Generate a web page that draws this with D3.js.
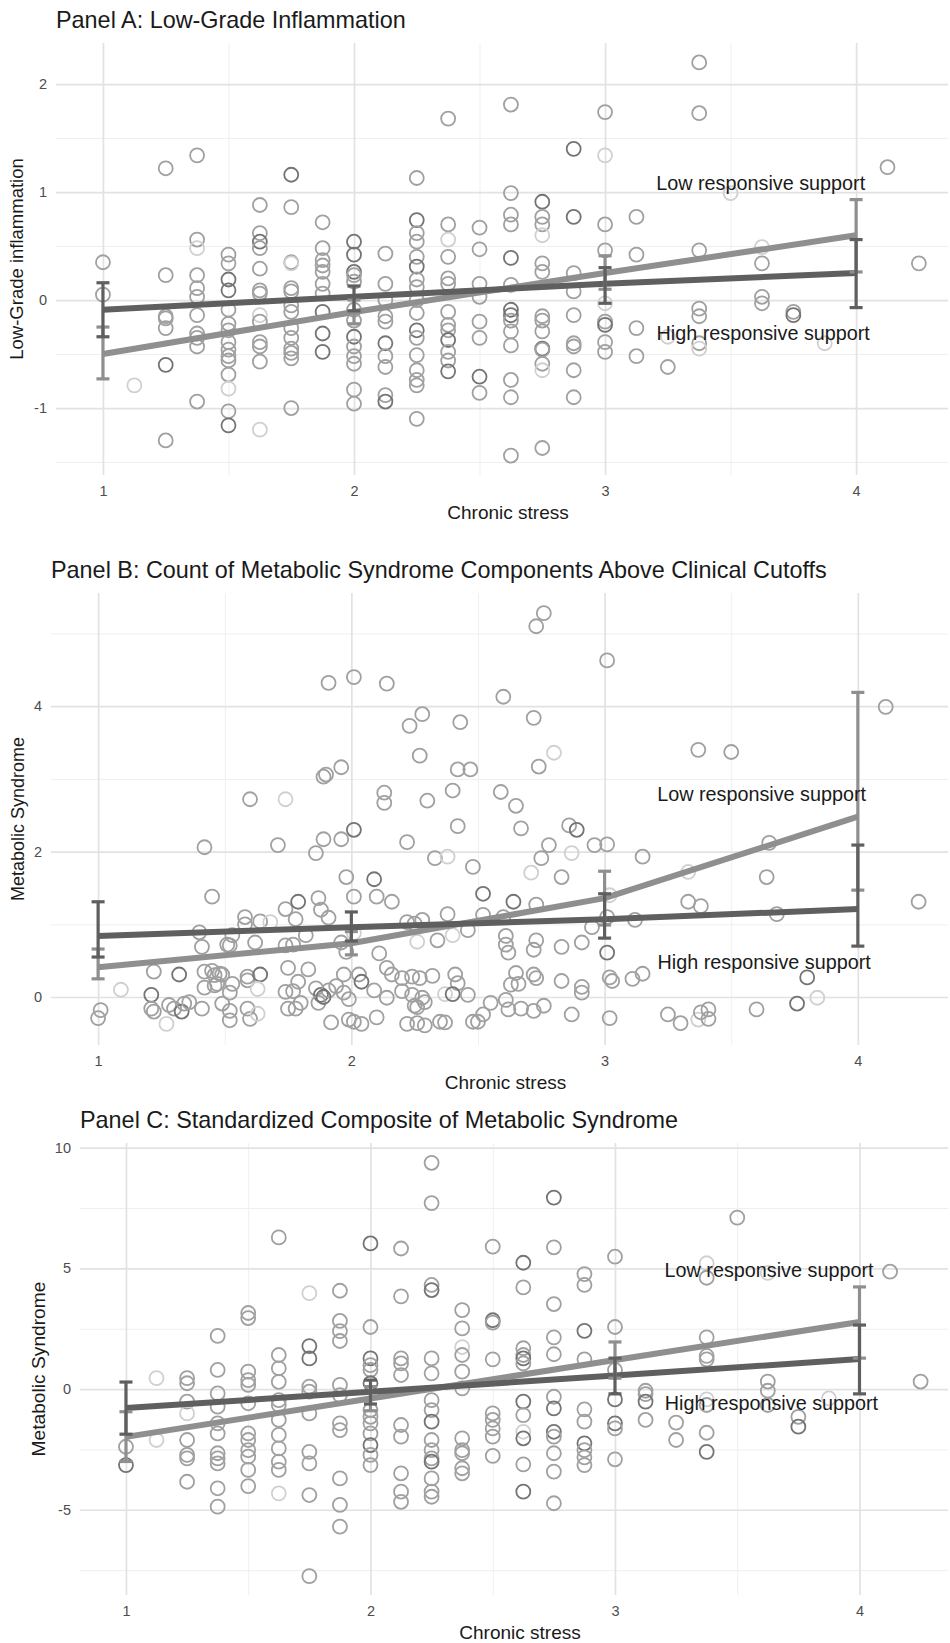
<!DOCTYPE html>
<html>
<head>
<meta charset="utf-8">
<script src="https://cdn.jsdelivr.net/npm/d3@7"></script>
<style>
  body { margin: 0; background: #fff; }
  svg { display: block; font-family: "Liberation Sans", Arial, Helvetica, sans-serif; }
</style>
</head>
<body>
<svg id="chart" width="950" height="1643"></svg>
<script>
// chronic stress levels where the model lines / error bars sit
const stress = [1, 2, 3, 4];
const xTicks = [1, 2, 3, 4];
const xMinor = [1.5, 2.5, 3.5];

/* Panel A: low-grade inflammation */
const highA = [-0.09, 0.03, 0.15, 0.25];
const highA_lo = [-0.34, -0.10, -0.03, -0.07];
const highA_hi = [0.16, 0.13, 0.30, 0.56];
const lowA = [-0.50, -0.11, 0.25, 0.60];
const lowA_lo = [-0.73, -0.22, 0.10, 0.26];
const lowA_hi = [-0.25, 0.00, 0.41, 0.93];
const yTicksA = [-1, 0, 1, 2];
const yMinorA = [-1.5, -0.5, 0.5, 1.5];
// [stress, value, tone]  tone: 0 light, 1 mid (default), 2 dark
const ptsA = [
  [1,0.35],[1,0.05],[1.125,-0.79,0],
  [1.25,1.22],[1.25,0.23],[1.25,-0.15],[1.25,-0.17],[1.25,-0.26],[1.25,-0.60,2],[1.25,-1.30],
  [1.375,1.34],[1.375,0.56],[1.375,0.48,0],[1.375,0.23],[1.375,0.11],[1.375,0.03],[1.375,-0.14],[1.375,-0.31],[1.375,-0.35],[1.375,-0.43],[1.375,-0.94],
  [1.5,0.42],[1.5,0.34],[1.5,0.19,2],[1.5,0.09,2],[1.5,-0.09],[1.5,-0.22],[1.5,-0.28],[1.5,-0.39],[1.5,-0.46],[1.5,-0.52],[1.5,-0.56],[1.5,-0.69],[1.5,-0.82,0],[1.5,-1.03],[1.5,-1.16,2],
  [1.625,0.88],[1.625,0.62],[1.625,0.54,2],[1.625,0.48],[1.625,0.29],[1.625,0.09],[1.625,0.06],[1.625,-0.14,0],[1.625,-0.20],[1.625,-0.39],[1.625,-0.43],[1.625,-0.57],[1.625,-1.20,0],
  [1.75,1.16,2],[1.75,0.86],[1.75,0.35],[1.75,0.34,0],[1.75,0.11],[1.75,0.08],[1.75,-0.05],[1.75,-0.11],[1.75,-0.26],[1.75,-0.35],[1.75,-0.45],[1.75,-0.49],[1.75,-0.54],[1.75,-1.00],
  [1.875,0.72],[1.875,0.48],[1.875,0.37],[1.875,0.32],[1.875,0.26],[1.875,0.15],[1.875,0.06],[1.875,-0.11,2],[1.875,-0.31,2],[1.875,-0.48,2],
  [2,0.54,2],[2,0.42,2],[2,0.26,2],[2,0.23],[2,0.17],[2,-0.09],[2,-0.19],[2,-0.34,2],[2,-0.43],[2,-0.52],[2,-0.59],[2,-0.83],[2,-0.96],
  [2.125,0.43],[2.125,0.15],[2.125,0],[2.125,-0.15],[2.125,-0.20],[2.125,-0.40,2],[2.125,-0.52],[2.125,-0.62],[2.125,-0.88],[2.125,-0.94,2],
  [2.25,1.13],[2.25,0.74,2],[2.25,0.62],[2.25,0.54],[2.25,0.40],[2.25,0.31,2],[2.25,0.19],[2.25,0.12],[2.25,0],[2.25,-0.12],[2.25,-0.28,2],[2.25,-0.35],[2.25,-0.51],[2.25,-0.65],[2.25,-0.74],[2.25,-0.79],[2.25,-1.10],
  [2.375,1.68],[2.375,0.70],[2.375,0.56,0],[2.375,0.40],[2.375,0.20],[2.375,0.15],[2.375,-0.11],[2.375,-0.23],[2.375,-0.28],[2.375,-0.37,2],[2.375,-0.48],[2.375,-0.56],[2.375,-0.66,2],
  [2.5,0.67],[2.5,0.47],[2.5,0.15],[2.5,0.03],[2.5,-0.20],[2.5,-0.35],[2.5,-0.71,2],[2.5,-0.86],
  [2.625,1.81],[2.625,0.99],[2.625,0.79],[2.625,0.70],[2.625,0.39,2],[2.625,0.14],[2.625,-0.09,2],[2.625,-0.14,2],[2.625,-0.19],[2.625,-0.29],[2.625,-0.42],[2.625,-0.74],[2.625,-0.90],[2.625,-1.44],
  [2.75,0.91,2],[2.75,0.77],[2.75,0.70],[2.75,0.60,0],[2.75,0.34],[2.75,0.26],[2.75,-0.15],[2.75,-0.19],[2.75,-0.29],[2.75,-0.45,2],[2.75,-0.46],[2.75,-0.59],[2.75,-0.65,0],[2.75,-1.37],
  [2.875,1.40,2],[2.875,0.77,2],[2.875,0.25],[2.875,0.08],[2.875,-0.14],[2.875,-0.40],[2.875,-0.43],[2.875,-0.65],[2.875,-0.90],
  [3,1.74],[3,1.34,0],[3,0.70],[3,0.46],[3,-0.03,0],[3,-0.20],[3,-0.23,2],[3,-0.39],[3,-0.48],
  [3.125,0.77],[3.125,0.42],[3.125,-0.26],[3.125,-0.52],
  [3.25,-0.34,0],[3.25,-0.62],
  [3.375,2.20],[3.375,1.73],[3.375,0.46],[3.375,-0.08],[3.375,-0.15],[3.375,-0.40],[3.375,-0.45,0],
  [3.5,0.99,0],
  [3.625,0.49,0],[3.625,0.34],[3.625,0.03],[3.625,-0.03],
  [3.75,-0.11],[3.75,-0.14,2],[3.875,-0.40,0],
  [4.125,1.23],[4.25,0.34]
];

/* Panel B: count of metabolic syndrome components */
const highB = [0.84, 0.96, 1.07, 1.21];
const highB_lo = [0.55, 0.77, 0.81, 0.70];
const highB_hi = [1.31, 1.17, 1.42, 2.09];
const lowB = [0.41, 0.74, 1.36, 2.48];
const lowB_lo = [0.25, 0.58, 0.99, 1.47];
const lowB_hi = [0.66, 0.90, 1.73, 4.19];
const yTicksB = [0, 2, 4];
const yMinorB = [1, 3, 5];
const ptsB = [
  [1.60,2.72],[1.74,2.72,0],[1.91,4.32],[2.01,4.40],[2.14,4.31],[2.23,3.73],[2.28,3.89],[2.43,3.78],[2.27,3.32],[1.96,3.16],[1.89,3.03],[1.90,3.06],
  [2.13,2.81],[2.13,2.67],[2.30,2.70],[2.40,2.84],[2.42,3.13],[2.47,3.13],[2.01,2.30,2],[2.42,2.35],
  [2.76,5.28],[2.73,5.10],[3.01,4.63],[2.60,4.13],[2.72,3.84],[2.80,3.36,0],[2.74,3.17],[2.59,2.82],[2.65,2.63],[3.37,3.40],[3.50,3.37],[4.11,3.99],
  [2.67,2.32],[2.86,2.36],[2.89,2.30,2],
  [1.42,2.06],[1.71,2.09],[1.86,1.98],[1.89,2.17],[1.96,2.17],[2.22,2.13],[2.33,1.91],[2.38,1.93,0],[2.48,1.79],[1.98,1.65],[2.09,1.62,2],
  [1.45,1.38],[1.74,1.21],[1.79,1.31,2],[1.78,1.07],[1.87,1.36],[1.88,1.20],[1.91,1.09],[2.01,1.38],[2.10,1.38],[2.16,1.31],
  [2.22,1.03],[2.25,1.01],[2.28,1.06],[2.38,1.14],[2.40,0.85,0],[2.34,0.78],[2.26,0.76,0],[2.46,0.92],
  [1.40,0.89],[1.58,1.10],[1.58,1.00],[1.64,1.04],[1.68,1.03,0],[1.53,0.85],[1.41,0.69],[1.51,0.72],[1.52,0.71],[1.62,0.75],[1.82,0.85],
  [1.74,0.71],[1.77,0.72],[1.96,0.75],[2.01,0.88,0],[1.98,0.62],[2.11,0.60],
  [1.22,0.35],[1.32,0.31,2],[1.42,0.35],[1.45,0.36],[1.46,0.30],[1.48,0.32],[1.49,0.31],[1.59,0.28],[1.59,0.23],[1.64,0.31,2],
  [1.75,0.40],[1.83,0.38],[1.79,0.21],[1.97,0.31],[2.03,0.31],[2.04,0.21,2],[2.14,0.40],[2.16,0.31],[2.20,0.26],[2.24,0.28],[2.27,0.26],[2.32,0.29],[2.41,0.31],[2.42,0.19],
  [1.42,0.13],[1.46,0.16],[1.47,0.18],[1.52,0.06],[1.53,0.18],[1.63,0.11,0],[1.74,0.07],[1.77,0.08],[1.86,0.12],[1.88,0.03,2],[1.91,0.09],[1.94,0.15],[1.97,0.06],[1.99,-0.03],
  [2.09,0.09],[2.14,-0.01],[2.20,0.08],[2.24,0.03],[2.28,-0.01],[2.37,0.04,0],[2.40,0.04,2],[2.46,0.03],[1.21,0.03,2],[1.09,0.10,0],
  [1.00,-0.29],[1.01,-0.18],[1.21,-0.16],[1.22,-0.20],[1.27,-0.37,0],[1.28,-0.11],[1.30,-0.16],[1.33,-0.20,2],[1.34,-0.09],[1.36,-0.07],[1.41,-0.16],
  [1.49,-0.09],[1.52,-0.19],[1.52,-0.32],[1.59,-0.16],[1.60,-0.30],[1.63,-0.23,0],[1.75,-0.16],[1.78,-0.16],[1.80,-0.08],[1.87,-0.08],[1.89,0.0,2],
  [1.92,-0.35],[1.99,-0.31],[2.01,-0.34],[2.04,-0.37],[2.10,-0.28],[2.25,-0.12],[2.26,-0.14],[2.29,-0.07],[2.22,-0.37],[2.26,-0.36],[2.29,-0.39],[2.35,-0.34],[2.37,-0.35],[2.48,-0.34],
  [2.78,2.09],[2.96,2.09],[3.01,2.10],[3.15,1.93],[2.75,1.91],[2.87,1.98,0],[2.71,1.71,0],[2.83,1.65],[3.33,1.72,0],[3.64,1.65],[3.65,2.12],
  [2.52,1.42,2],[2.64,1.31,2],[2.73,1.27],[2.52,1.13],[2.60,1.10],[3.33,1.31],[3.38,1.25],[3.68,1.14],[4.24,1.31],[3.02,1.40,0],[3.01,1.10],[2.95,0.96],[3.12,1.06],
  [2.61,0.84],[2.61,0.72],[2.62,0.61],[2.73,0.78],[2.72,0.65],[2.83,0.69],[2.91,0.75],[3.01,0.61,2],
  [2.65,0.33],[2.66,0.18],[2.63,0.17],[2.72,0.31],[2.73,0.26],[2.83,0.22],[2.91,0.14],[2.91,0.06],[3.02,0.27],[3.03,0.22],[3.11,0.25],[3.15,0.32],
  [3.80,0.27,2],[3.84,-0.01,0],[3.76,-0.09,2],[3.60,-0.17],[3.25,-0.24],[3.30,-0.36],[3.37,-0.31,0],[3.38,-0.21],[3.41,-0.17],[3.41,-0.30],[3.02,-0.29],[2.87,-0.24],
  [2.61,-0.04],[2.62,-0.17],[2.67,-0.16],[2.72,-0.19],[2.76,-0.12],[2.55,-0.08],[2.52,-0.24],[2.50,-0.34]
];

/* Panel C: standardized composite of metabolic syndrome */
const highC = [-0.79, -0.11, 0.56, 1.24];
const highC_lo = [-1.87, -0.62, -0.20, -0.20];
const highC_hi = [0.29, 0.37, 1.28, 2.65];
const lowC = [-1.98, -0.39, 1.20, 2.78];
const lowC_lo = [-3.00, -0.90, 0.45, 1.28];
const lowC_hi = [-0.94, 0.10, 1.95, 4.23];
const yTicksC = [-5, 0, 5, 10];
const yMinorC = [-7.5, -2.5, 2.5, 7.5];
const ptsC = [
  [1.125,0.45,0],[1.25,0.45],[1.25,0.24],[1.375,2.20],[1.375,0.79],[1.5,3.15],[1.5,2.94],[1.5,0.72],[1.625,6.28],[1.625,1.41],[1.625,0.86],
  [1.75,3.97,0],[1.75,1.78,2],[1.75,1.27,2],[1.875,4.07],[1.875,2.82],[1.875,2.40],[1.875,1.99],
  [2,6.03,2],[2,2.57],[2,1.27,2],[2,0.99],[2,0.79],[2.125,5.82],[2.125,3.84],[2.125,1.27],[2.125,1.06],[2.125,0.58],
  [2.25,9.37],[2.25,7.70],[2.25,4.31],[2.25,4.10,2],[2.25,1.27],[2.25,0.65],[2.375,3.27],[2.375,2.51],[2.375,1.74,0],[2.375,1.41],[2.375,0.72],
  [2.5,5.90],[2.5,2.85,2],[2.5,2.75],[2.5,1.23],[2.625,5.23,2],[2.625,4.21],[2.625,1.69],[2.625,1.41],[2.625,1.27,2],[2.625,1.06],
  [2.75,7.93,2],[2.75,5.87],[2.75,3.52],[2.75,2.14],[2.75,1.44],[2.875,4.76],[2.875,4.31],[2.875,2.41,2],[2.875,1.23],
  [3,5.48],[3,2.57],[3,0.79],[3.375,5.21,0],[3.375,4.61],[3.375,2.14],[3.375,1.37],[3.375,1.23],[3.5,7.10],[3.625,4.81,0],[4.125,4.86],[4.25,0.31],
  [1,-2.39],[1,-3.15,2],[1.125,-2.11,0],
  [1.25,-0.52],[1.25,-1.01,0],[1.25,-2.11],[1.25,-2.73],[1.25,-2.87],[1.25,-3.84],
  [1.375,-0.18],[1.375,-0.73],[1.375,-1.42],[1.375,-1.84],[1.375,-2.66],[1.375,-2.87],[1.375,-3.08],[1.375,-4.11],[1.375,-4.87],
  [1.5,0.37],[1.5,0.17],[1.5,-0.59],[1.5,-1.84],[1.5,-2.11],[1.5,-2.53],[1.5,-2.80],[1.5,-3.35],[1.5,-4.02],
  [1.625,0.30],[1.625,-0.46],[1.625,-0.66],[1.625,-1.28],[1.625,-1.90],[1.625,-2.46],[1.625,-3.01],[1.625,-3.35],[1.625,-4.32,0],
  [1.75,0.10],[1.75,-0.11],[1.75,-1.01],[1.75,-2.60],[1.75,-3.08],[1.75,-4.39],[1.75,-7.75],
  [1.875,0.17],[1.875,-0.25],[1.875,-1.42],[1.875,-1.70],[1.875,-3.70],[1.875,-4.80],[1.875,-5.70],
  [2,0.24,2],[2,-0.87],[2,-1.15],[2,-1.42],[2,-1.84],[2,-2.32,2],[2,-2.73],[2,-3.15],
  [2.125,-1.49],[2.125,-1.97],[2.125,-3.49],[2.125,-4.25],[2.125,-4.67],
  [2.25,-0.46],[2.25,-0.87],[2.25,-1.35,2],[2.25,-2.11],[2.25,-2.53],[2.25,-2.87],[2.25,-3.01,2],[2.25,-3.70],[2.25,-4.25],[2.25,-4.46],
  [2.375,0.03],[2.375,-2.04],[2.375,-2.53],[2.375,-2.66],[2.375,-3.28],[2.375,-3.49],
  [2.5,-1.01],[2.5,-1.28],[2.5,-1.63],[2.5,-1.97],[2.5,-2.77],
  [2.625,-0.52,2],[2.625,-1.08],[2.625,-1.77,0],[2.625,-2.04,2],[2.625,-3.12],[2.625,-4.25,2],
  [2.75,-0.32],[2.75,-0.80,2],[2.75,-1.77,2],[2.75,-1.97],[2.75,-2.66],[2.75,-3.42],[2.75,-4.73],
  [2.875,-0.84],[2.875,-1.35],[2.875,-2.25,2],[2.875,-2.53],[2.875,-2.83],[2.875,-3.15],
  [3,-0.43,2],[3,-1.42,2],[3,-1.63],[3,-2.91],
  [3.125,-0.07],[3.125,-0.21],[3.125,-0.52,2],[3.125,-1.28],[3.25,-1.39],[3.25,-2.11],
  [3.375,-0.43,0],[3.375,-0.66],[3.375,-1.81],[3.375,-2.60,2],
  [3.625,0.31],[3.625,-0.07],[3.625,-0.66],[3.75,-1.15],[3.75,-1.56,2],[3.875,-0.39,0]
];

// line labels: [stress, value]
const labelText = ['Low responsive support', 'High responsive support'];
const labelsA = [[3.62, 1.08], [3.63, -0.31]];
const labelsB = [[3.62, 2.79], [3.63, 0.48]];
const labelsC = [[3.63, 4.93], [3.64, -0.58]];

const panels = [
  { title: 'Panel A: Low-Grade Inflammation', yTitle: 'Low-Grade inflammation',
    top: 43, bottom: 475, left: 56, right: 948, xDom: [0.813, 4.366], yDom: [-1.62, 2.38],
    yTicks: yTicksA, yMinor: yMinorA, pts: ptsA, labels: labelsA,
    high: [highA, highA_lo, highA_hi], low: [lowA, lowA_lo, lowA_hi],
    titleY: 28, yTitleX: 17, yTitleSize: 18.5 },
  { title: 'Panel B: Count of Metabolic Syndrome Components Above Clinical Cutoffs', yTitle: 'Metabolic Syndrome',
    top: 593, bottom: 1045, left: 51, right: 948, xDom: [0.814, 4.356], yDom: [-0.66, 5.557],
    yTicks: yTicksB, yMinor: yMinorB, pts: ptsB, labels: labelsB,
    high: [highB, highB_lo, highB_hi], low: [lowB, lowB_lo, lowB_hi],
    titleY: 578, yTitleX: 18, yTitleSize: 18 },
  { title: 'Panel C: Standardized Composite of Metabolic Syndrome', yTitle: 'Metabolic Syndrome',
    top: 1143, bottom: 1595, left: 80, right: 948, xDom: [0.812, 4.362], yDom: [-8.53, 10.19],
    yTicks: yTicksC, yMinor: yMinorC, pts: ptsC, labels: labelsC,
    high: [highC, highC_lo, highC_hi], low: [lowC, lowC_lo, lowC_hi],
    titleY: 1128, yTitleX: 38, yTitleSize: 19.2 }
];

const toneColor = ['#d0d0d0', '#a0a0a0', '#747474'];
const darkCol = '#5f5f5f';
const lightCol = '#8f8f8f';

const svg = d3.select('#chart');

function gridAxis(g, color, width) {
  g.select('.domain').remove();
  g.selectAll('line').attr('stroke', color).attr('stroke-width', width);
}

function drawPanel(p) {
  const x = d3.scaleLinear().domain(p.xDom).range([p.left, p.right]);
  const y = d3.scaleLinear().domain(p.yDom).range([p.bottom, p.top]);
  const h = p.bottom - p.top;
  const w = p.right - p.left;
  const g = svg.append('g');

  /*grid*/
  g.append('g').attr('transform', `translate(0,${p.bottom})`)
    .call(d3.axisBottom(x).tickValues(xMinor).tickSize(-h).tickFormat(''))
    .call(gridAxis, '#efefef', 1);
  g.append('g').attr('transform', `translate(${p.left},0)`)
    .call(d3.axisLeft(y).tickValues(p.yMinor).tickSize(-w).tickFormat(''))
    .call(gridAxis, '#efefef', 1);
  g.append('g').attr('transform', `translate(0,${p.bottom})`)
    .call(d3.axisBottom(x).tickValues(xTicks).tickSize(-h).tickFormat(''))
    .call(gridAxis, '#e2e2e2', 1.7);
  g.append('g').attr('transform', `translate(${p.left},0)`)
    .call(d3.axisLeft(y).tickValues(p.yTicks).tickSize(-w).tickFormat(''))
    .call(gridAxis, '#e2e2e2', 1.7);

  /*tick labels*/
  const xa = g.append('g').attr('transform', `translate(0,${p.bottom})`)
    .call(d3.axisBottom(x).tickValues(xTicks).tickSize(0).tickFormat(d3.format('d')));
  xa.select('.domain').remove();
  xa.selectAll('text').attr('y', 16).attr('dy', '0.35em')
    .attr('font-size', 14.5).attr('fill', '#4d4d4d').attr('font-family', null);

  const ya = g.append('g').attr('transform', `translate(${p.left},0)`)
    .call(d3.axisLeft(y).tickValues(p.yTicks).tickSize(0).tickPadding(9).tickFormat(d3.format('d')));
  ya.select('.domain').remove();
  ya.selectAll('text').attr('font-size', 14.5).attr('fill', '#4d4d4d').attr('font-family', null)
    .text(d => d < 0 ? '-' + Math.abs(d) : d);

  /*titles*/
  g.append('text').attr('x', p.left).attr('y', p.titleY)
    .attr('font-size', 23.4).attr('fill', '#1a1a1a').text(p.title);
  g.append('text').attr('x', (p.left + p.right) / 2 + 6).attr('y', p.bottom + 37)
    .attr('text-anchor', 'middle').attr('dy', '0.35em')
    .attr('font-size', 19).attr('fill', '#1a1a1a').text('Chronic stress');
  g.append('text')
    .attr('transform', `translate(${p.yTitleX},${(p.top + p.bottom) / 2}) rotate(-90)`)
    .attr('text-anchor', 'middle').attr('dy', '0.35em')
    .attr('font-size', p.yTitleSize).attr('fill', '#1a1a1a').text(p.yTitle);

  /*points*/
  g.append('g').selectAll('circle')
    .data(p.pts)
    .enter()
    .append('circle')
    .attr('cx', d => x(d[0]))
    .attr('cy', d => y(d[1]))
    .attr('r', 7)
    .attr('fill', 'none')
    .attr('stroke', d => toneColor[d.length > 2 ? d[2] : 1])
    .attr('stroke-width', 1.8);

  /*lines*/
  const line = d3.line().x((d, i) => x(stress[i])).y(d => y(d));
  g.append('path').datum(p.low[0]).attr('d', line)
    .attr('fill', 'none').attr('stroke', lightCol).attr('stroke-width', 6);
  g.append('path').datum(p.high[0]).attr('d', line)
    .attr('fill', 'none').attr('stroke', darkCol).attr('stroke-width', 6);

  /*error bars*/
  [[p.low, lightCol], [p.high, darkCol]].forEach(([s, col]) => {
    const eb = g.append('g').attr('stroke', col).attr('stroke-width', 3.2);
    stress.forEach((sv, i) => {
      const cx = x(sv);
      eb.append('line').attr('x1', cx).attr('x2', cx).attr('y1', y(s[1][i])).attr('y2', y(s[2][i]));
      eb.append('line').attr('x1', cx - 6.5).attr('x2', cx + 6.5).attr('y1', y(s[1][i])).attr('y2', y(s[1][i]));
      eb.append('line').attr('x1', cx - 6.5).attr('x2', cx + 6.5).attr('y1', y(s[2][i])).attr('y2', y(s[2][i]));
    });
  });

  /*labels*/
  g.append('g').selectAll('text')
    .data(p.labels)
    .enter()
    .append('text')
    .attr('x', d => x(d[0]))
    .attr('y', d => y(d[1]))
    .attr('text-anchor', 'middle')
    .attr('dy', '0.35em')
    .attr('font-size', 19.8)
    .attr('fill', '#1a1a1a')
    .text((d, i) => labelText[i]);
}

panels.forEach(drawPanel);
</script>
</body>
</html>
